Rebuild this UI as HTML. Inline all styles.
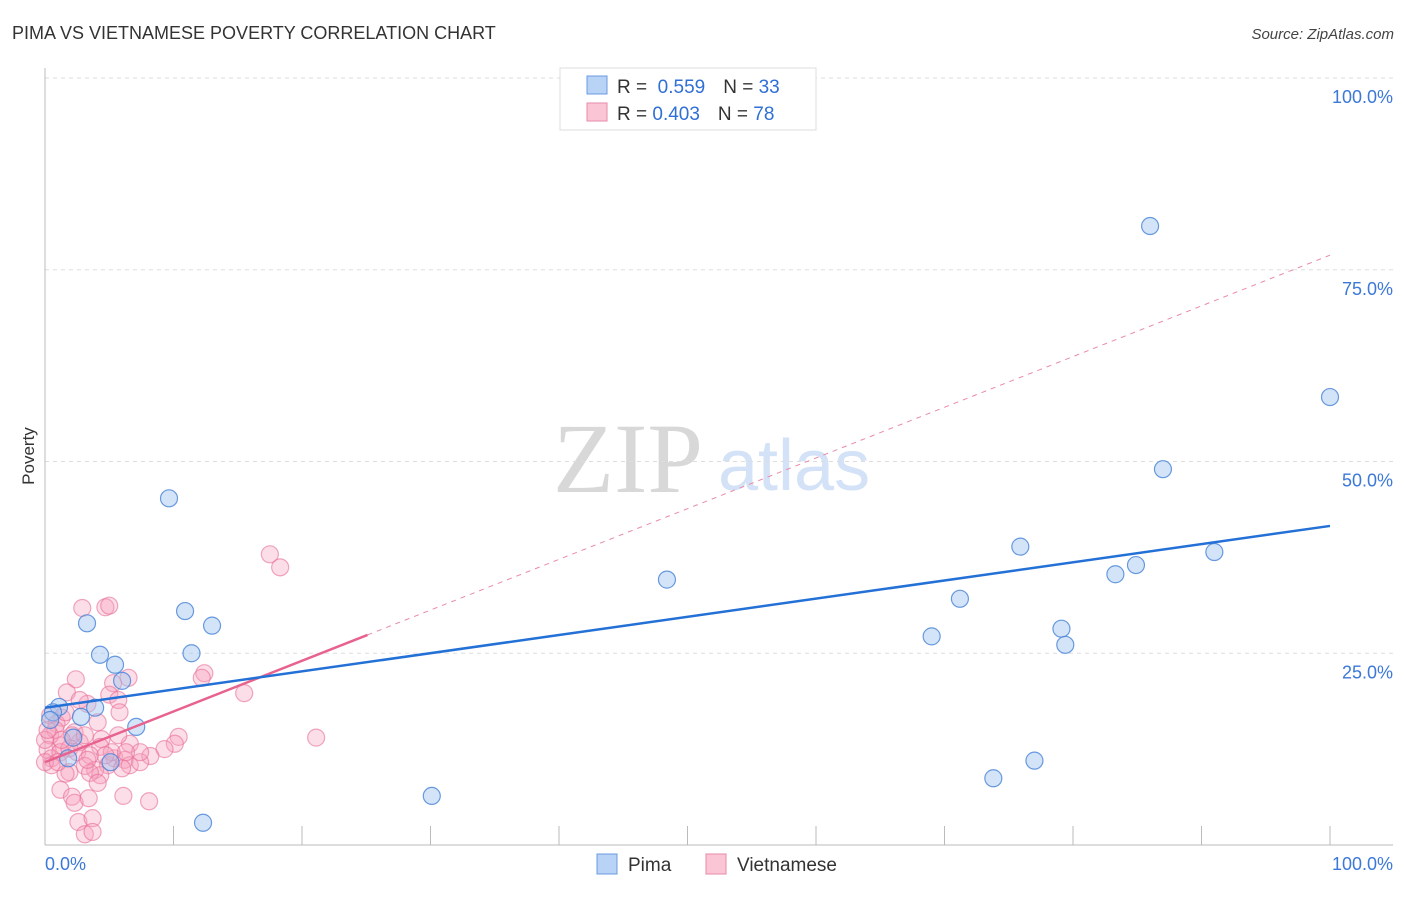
<!DOCTYPE html>
<html><head><meta charset="utf-8"><style>
body{margin:0;background:#fff;font-family:"Liberation Sans",sans-serif;}
svg text{font-family:"Liberation Sans",sans-serif;}
</style></head><body>
<svg id="c" width="1406" height="892">
<text x="12" y="39" font-size="18" fill="#333">PIMA VS VIETNAMESE POVERTY CORRELATION CHART</text>
<text x="1394" y="39" font-size="15" fill="#444" font-style="italic" text-anchor="end">Source: ZipAtlas.com</text>
<text x="553" y="492" font-size="100" fill="#d8d8d8" style="font-family:'Liberation Serif',serif">ZIP</text>
<text x="718" y="490" font-size="72" fill="#d3e2f6">atlas</text>
<text x="34" y="456" font-size="17" fill="#333" transform="rotate(-90 34 456)" text-anchor="middle">Poverty</text>
<g id="grid"></g><g id="pts"></g><g id="lines"></g>
<g>
<rect x="560" y="68" width="256" height="62" fill="#fff" stroke="#ddd"/>
<rect x="587" y="76" width="20" height="18" fill="#b8d3f5" stroke="#6a9be0"/>
<rect x="587" y="103" width="20" height="18" fill="#fac6d6" stroke="#ea8aa8"/>
<text x="617" y="93" font-size="19" fill="#333">R = <tspan fill="#2f6fd6">&#160;0.559</tspan><tspan dx="18">N = </tspan><tspan fill="#2f6fd6">33</tspan></text>
<text x="617" y="120" font-size="19" fill="#333">R = <tspan fill="#2f6fd6">0.403</tspan><tspan dx="18">N = </tspan><tspan fill="#2f6fd6">78</tspan></text>
</g>
<g>
<rect x="597" y="854" width="20" height="20" fill="#b8d3f5" stroke="#6a9be0"/>
<text x="628" y="871" font-size="19" fill="#333">Pima</text>
<rect x="706" y="854" width="20" height="20" fill="#fac6d6" stroke="#ea8aa8"/>
<text x="737" y="871" font-size="19" fill="#333">Vietnamese</text>
</g>
</svg>
<script>
const yTicks=[25,50,75,100];
const xTickLabels=["0.0%","100.0%"];
const pimaX=[86.0,100,87.0,9.65,75.9,91.0,84.9,83.3,48.4,71.2,10.9,3.27,13.0,69.0,79.1,79.4,4.28,11.4,5.45,6.0,1.09,0.62,3.9,2.8,7.1,2.2,0.4,1.8,5.1,73.8,77.0,30.1,12.3];
const pimaY=[80.7,58.4,49.0,45.2,38.9,38.2,36.5,35.3,34.6,32.1,30.5,28.9,28.6,27.2,28.2,26.1,24.8,25.0,23.5,21.4,18.0,17.3,17.9,16.7,15.4,14.0,16.3,11.3,10.8,8.7,11.0,6.4,2.9];
const vietX=[17.5,18.3,2.9,4.7,5.0,2.4,6.5,12.4,12.2,5.3,1.7,5.0,5.7,15.5,3.3,1.3,0.4,0.9,21.1,10.4,10.1,9.3,8.2,6.6,4.4,4.3,2.7,1.2,0.4,0.2,0.5,1.2,1.9,2.5,3.5,5.4,6.2,4.9,3.9,3.1,1.9,0.5,6.6,7.4,6.0,4.3,1.6,1.2,3.5,4.1,2.1,2.3,3.4,6.1,8.1,2.6,3.7,3.1,3.7,5.2,5.7,4.1,2.3,0.8,1.6,0,0,1.0,7.4,6.3,3.3,4.7,5.8,2.7,2.1,0.2,1.3,3.1];
const vietY=[37.9,36.2,30.9,31.0,31.2,21.6,21.8,22.4,21.8,21.1,19.9,19.6,18.9,19.8,18.4,16.6,16.9,15.8,14.0,14.1,13.2,12.5,11.6,13.2,13.8,12.8,13.4,13.0,14.3,12.4,11.3,12.1,12.6,12.1,11.7,11.3,11.1,10.4,9.8,10.3,9.5,10.4,10.4,10.8,10.0,9.1,9.3,7.2,9.4,8.1,6.3,5.5,6.1,6.4,5.7,3.0,3.5,1.4,1.7,12.1,14.3,16.0,14.7,15.0,17.3,13.7,10.8,10.8,12.1,12.1,11.1,11.7,17.3,18.9,14.3,15.0,13.7,14.3];
const pimaLine=[17.9,41.6];
const vietLine=[10.8,76.9];
const vietSolidEnd=25.1;
const X=v=>45+v*12.85, Y=v=>845-v*7.67;
const NS='http://www.w3.org/2000/svg';
function mk(t,a,p){const e=document.createElementNS(NS,t);for(const k in a)e.setAttribute(k,a[k]);p.appendChild(e);return e;}
const grid=document.getElementById('grid');
yTicks.forEach(t=>{
 const l=mk('line',{x1:45,x2:1393,y1:Y(t),y2:Y(t),stroke:'#ddd','stroke-dasharray':'4,4'},grid);
 
 
 const tx=mk('text',{x:1393,y:Y(t)+25,'font-size':18,fill:'#3b78d8','text-anchor':'end'},grid);
 tx.textContent=t.toFixed(1)+'%';
 
 
});
const ax=mk('line',{x1:45,x2:1393,y1:845,y2:845,stroke:'#bbb'},grid);


const ay=mk('line',{x1:45,x2:45,y1:68,y2:845,stroke:'#bbb'},grid);


for(let i=1;i<=10;i++){const tk=mk('line',{x1:X(i*10),x2:X(i*10),y1:826,y2:845,stroke:'#bbb'},grid);
 
 }
const t0=mk('text',{x:45,y:870,'font-size':18,fill:'#3b78d8'},grid);t0.textContent=xTickLabels[0];


const t1=mk('text',{x:1393,y:870,'font-size':18,fill:'#3b78d8','text-anchor':'end'},grid);t1.textContent=xTickLabels[1];


const pts=document.getElementById('pts');
vietX.forEach((v,i)=>{const c=mk('circle',{cx:X(v),cy:Y(vietY[i]),r:8.5,fill:'rgba(246,160,188,0.35)',stroke:'rgba(232,110,150,0.6)','stroke-width':1.2},pts);
 
 });
pimaX.forEach((v,i)=>{const c=mk('circle',{cx:X(v),cy:Y(pimaY[i]),r:8.5,fill:'rgba(160,196,240,0.45)',stroke:'rgba(70,130,215,0.8)','stroke-width':1.2},pts);
 
 });
const lines=document.getElementById('lines');
const vAt=x=>vietLine[0]+(vietLine[1]-vietLine[0])*x/100;
const vd=mk('line',{x1:X(vietSolidEnd),y1:Y(vAt(vietSolidEnd)),x2:X(100),y2:Y(vietLine[1]),stroke:'#ea8aa8','stroke-dasharray':'5,5','stroke-width':1},lines);


const vs=mk('line',{x1:X(0),y1:Y(vietLine[0]),x2:X(vietSolidEnd),y2:Y(vAt(vietSolidEnd)),stroke:'#e8628e','stroke-width':2.5},lines);


const pl=mk('line',{x1:X(0),y1:Y(pimaLine[0]),x2:X(100),y2:Y(pimaLine[1]),stroke:'#2370d6','stroke-width':2.5},lines);


</script>
</body></html>
